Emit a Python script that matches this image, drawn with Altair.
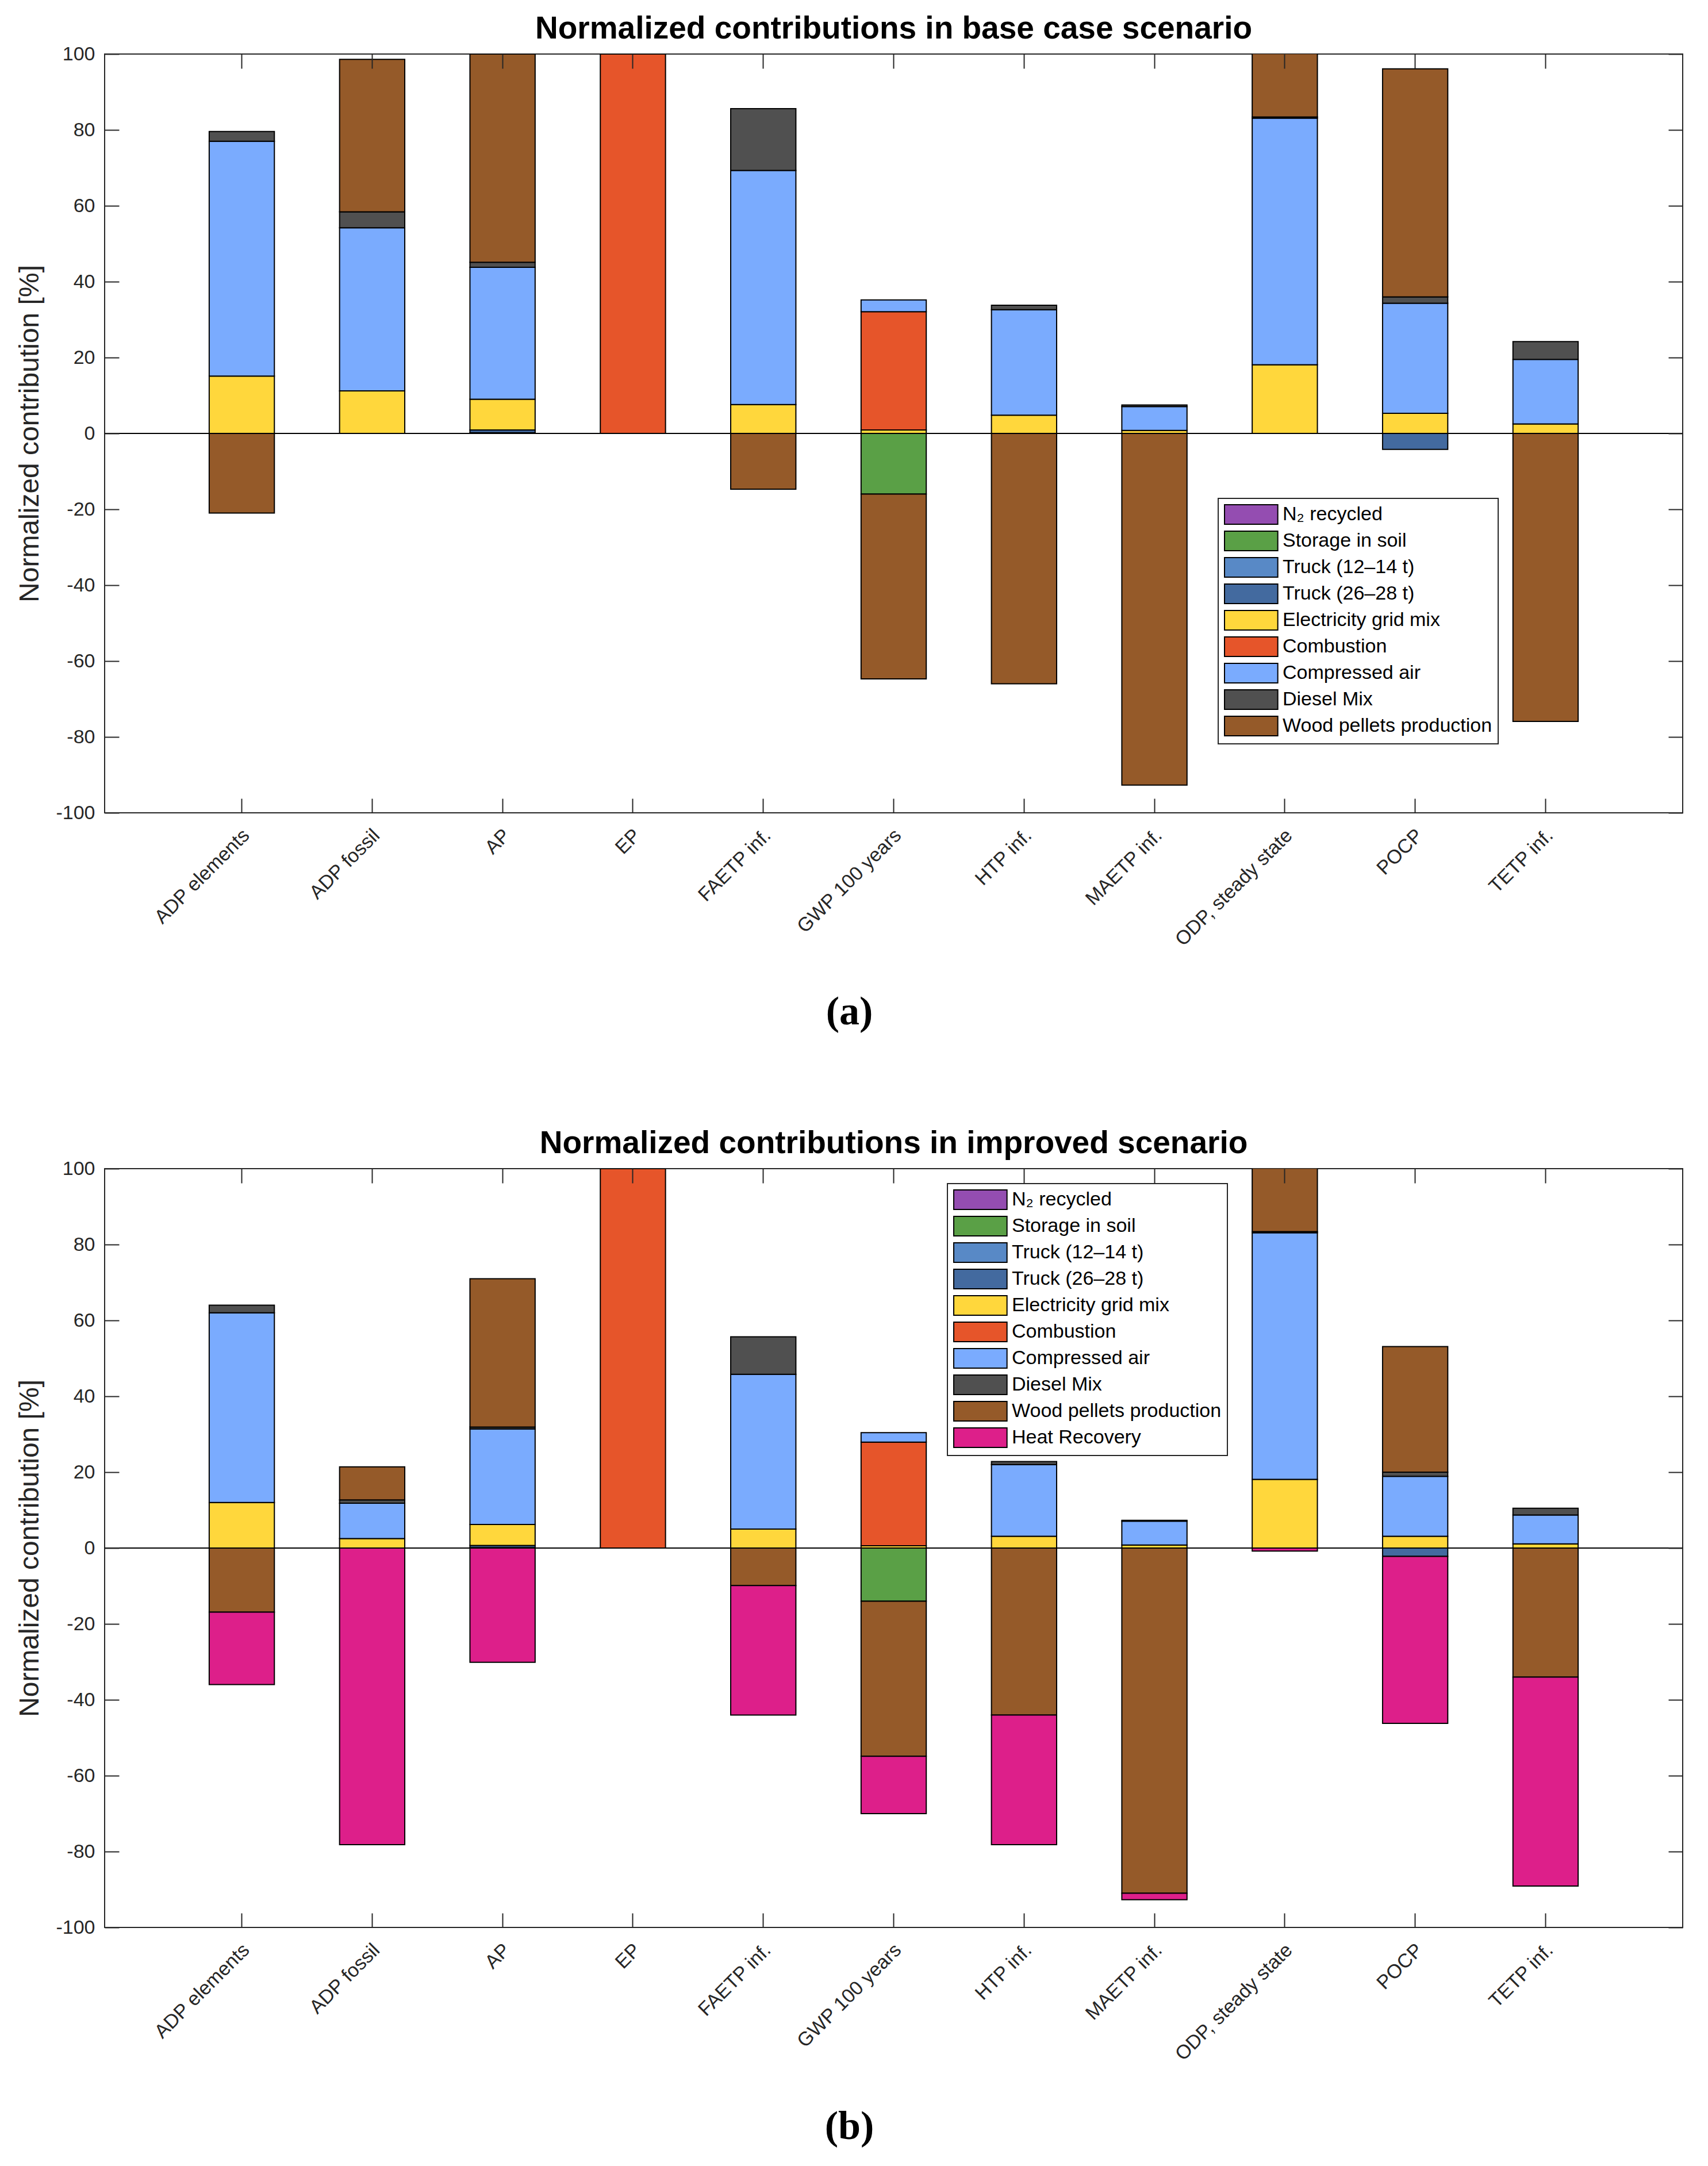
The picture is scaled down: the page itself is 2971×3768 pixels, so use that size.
import altair as alt
import pandas as pd

categories = ["ADP elements", "ADP fossil", "AP", "EP", "FAETP inf.", "GWP 100 years",
              "HTP inf.", "MAETP inf.", "ODP, steady state", "POCP", "TETP inf."]

series_names = ["N\u2082 recycled", "Storage in soil", "Truck (12\u201314 t)", "Truck (26\u201328 t)",
                "Electricity grid mix", "Combustion", "Compressed air", "Diesel Mix",
                "Wood pellets production", "Heat Recovery"]
series_colors = ["#944DB1", "#5AA046", "#5889C6", "#436A9F", "#FFD73C", "#E6552A",
                 "#7AABFE", "#505050", "#955A29", "#DD1F8A"]

# ---- base case scenario (values per category, in order of `categories`)
base_n2 = [0, 0, 0, 0, 0, 0, 0, 0, 0, 0, 0]
base_soil = [0, 0, 0, 0, 0, -16.0, 0, 0, 0, 0, 0]
base_truck12 = [0, 0, 0.2, 0, 0, 0, 0, 0, 0, 0, 0]
base_truck26 = [0, 0, 0.7, 0, 0, 0, 0, 0, 0, -4.2, 0]
base_elec = [15.1, 11.2, 8.1, 0, 7.6, 0.9, 4.8, 0.8, 18.1, 5.3, 2.5]
base_comb = [0, 0, 0, 100, 0, 31.2, 0, 0, 0, 0, 0]
base_air = [61.9, 43.0, 34.8, 0, 61.7, 3.1, 27.8, 6.3, 65.0, 29.0, 17.0]
base_diesel = [2.6, 4.2, 1.3, 0, 16.3, 0, 1.2, 0.4, 0.3, 1.7, 4.7]
base_wood = [-21.0, 40.2, 54.9, 0, -14.7, -48.7, -66.0, -92.7, 16.7, 60.1, -75.9]

# ---- improved scenario
imp_n2 = [0, 0, 0, 0, 0, 0, 0, 0, 0, 0, 0]
imp_soil = [0, 0, 0, 0, 0, -14.0, 0, 0, 0, 0, 0]
imp_truck12 = [0, 0, 0.1, 0, 0, 0, 0, 0, 0, 0, 0]
imp_truck26 = [0, 0, 0.6, 0, 0, 0, 0, 0, 0, -2.2, 0]
imp_elec = [12.0, 2.5, 5.5, 0, 5.0, 0.6, 3.1, 0.8, 18.1, 3.1, 1.1]
imp_comb = [0, 0, 0, 100, 0, 27.3, 0, 0, 0, 0, 0]
imp_air = [50.0, 9.3, 25.2, 0, 40.8, 2.5, 18.9, 6.3, 65.0, 15.8, 7.6]
imp_diesel = [2.0, 0.9, 0.5, 0, 9.9, 0, 0.8, 0.2, 0.3, 1.1, 1.8]
imp_wood = [-16.9, 8.7, 39.1, 0, -9.9, -40.9, -44.0, -91.0, 16.7, 33.1, -34.0]
imp_heat = [-19.1, -78.2, -30.1, 0, -34.1, -15.1, -34.2, -1.7, -0.8, -44.0, -55.1]

y_ticks = [-100, -80, -60, -40, -20, 0, 20, 40, 60, 80, 100]

base_series = [base_n2, base_soil, base_truck12, base_truck26, base_elec, base_comb,
               base_air, base_diesel, base_wood]
imp_series = [imp_n2, imp_soil, imp_truck12, imp_truck26, imp_elec, imp_comb,
              imp_air, imp_diesel, imp_wood, imp_heat]


def make_df(series_list):
    rows = []
    for si, vals in enumerate(series_list):
        for ci, v in enumerate(vals):
            if v != 0:
                rows.append({"category": categories[ci], "series": series_names[si],
                             "order": si, "value": v})
    return pd.DataFrame(rows)


FONT = "Liberation Sans"
AXC = "#262626"
TICK = 25


def panel(df, n_series, title, caption, lx, ly):
    x_scale = alt.Scale(domain=categories, paddingInner=0.5, paddingOuter=0.802)
    y_scale = alt.Scale(domain=[-100, 100], nice=False, zero=False)
    base = alt.Chart(df)

    bars = base.mark_bar(stroke="black", strokeWidth=2, clip=True).encode(
        x=alt.X("category:N", sort=categories, scale=x_scale,
                axis=alt.Axis(orient="bottom", ticks=False, tickSize=0, domain=False,
                              labelAngle=-45, labelAlign="right", labelBaseline="middle",
                              labelPadding=34, labelOffset=8, labelFont=FONT,
                              labelFontSize=34, labelColor=AXC, labelLimit=1000,
                              labelOverlap=False,
                              title=caption, titleFont="Liberation Serif",
                              titleFontSize=70, titleFontWeight="bold", titleColor="black",
                              titleX=1295, titleY=346, titleAlign="center",
                              titleBaseline="middle")),
        y=alt.Y("value:Q", stack="zero", scale=y_scale,
                axis=alt.Axis(orient="left", values=y_ticks, ticks=False, tickSize=0,
                              domain=False, grid=False, labelPadding=17, labelFont=FONT,
                              labelFontSize=34, labelColor=AXC,
                              labelExpr="'' + datum.value",
                              title="Normalized contribution [%]", titleFont=FONT,
                              titleFontSize=48, titleFontWeight="normal", titleColor=AXC,
                              titlePadding=20)),
        color=alt.Color("series:N",
                        scale=alt.Scale(domain=series_names[:n_series],
                                        range=series_colors[:n_series]),
                        legend=alt.Legend(orient="none", legendX=lx, legendY=ly, title=None,
                                          fillColor="white", strokeColor="#262626",
                                          padding=10, rowPadding=4,
                                          symbolType="M-1,-1H4.45V1H-1Z", symbolSize=1156,
                                          symbolStrokeColor="black", symbolStrokeWidth=2,
                                          symbolOpacity=1, labelOffset=66,
                                          labelFont=FONT, labelFontSize=34,
                                          labelColor="black", labelLimit=1000)),
        order=alt.Order("order:Q"),
    )

    zero_rule = alt.Chart(df).mark_rule(color="black", strokeWidth=2).encode(
        y=alt.YDatum(0, scale=y_scale, axis=None)
    )

    ticks_bl = base.mark_point(opacity=0).encode(
        x=alt.X("category:N", sort=categories, scale=x_scale,
                axis=alt.Axis(orient="bottom", offset=-TICK, labels=False, domain=False,
                              tickSize=TICK, tickWidth=2, tickColor=AXC, title=None,
                              zindex=2)),
        y=alt.Y("value:Q", scale=y_scale,
                axis=alt.Axis(orient="left", offset=-TICK, labels=False, domain=False,
                              values=y_ticks, grid=False, tickSize=TICK, tickWidth=2,
                              tickColor=AXC, title=None, zindex=2)),
    )
    ticks_tr = base.mark_point(opacity=0).encode(
        x=alt.X("category:N", sort=categories, scale=x_scale,
                axis=alt.Axis(orient="top", offset=-TICK, labels=False, domain=False,
                              tickSize=TICK, tickWidth=2, tickColor=AXC, title=None,
                              zindex=2)),
        y=alt.Y("value:Q", scale=y_scale,
                axis=alt.Axis(orient="right", offset=-TICK, labels=False, domain=False,
                              values=y_ticks, grid=False, tickSize=TICK, tickWidth=2,
                              tickColor=AXC, title=None, zindex=2)),
    )

    return alt.layer(bars, zero_rule, ticks_bl, ticks_tr).resolve_axis(
        x="independent", y="independent"
    ).properties(
        width=2745, height=1320,
        title=alt.TitleParams(title, font=FONT, fontSize=55, fontWeight="bold",
                              color="black", anchor="middle", baseline="alphabetic",
                              offset=-45),
    )


df_base = make_df(base_series)
df_imp = make_df(imp_series)

top = panel(df_base, 9, "Normalized contributions in base case scenario", "(a)", 1937, 773)
bottom = panel(df_imp, 10, "Normalized contributions in improved scenario", "(b)", 1466, 26)

chart = alt.vconcat(top, bottom, spacing=165).resolve_scale(
    color="independent"
).properties(
    padding={"left": 19, "top": 14, "right": 5, "bottom": 5},
    background="white",
).configure_view(stroke=AXC, strokeWidth=2).configure_legend(strokeWidth=2)

chart.save("out.html", embed_options={"renderer": "svg", "actions": False})
